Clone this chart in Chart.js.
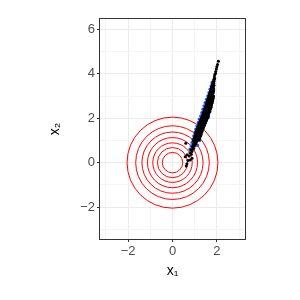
<!DOCTYPE html>
<html>
<head>
<meta charset="utf-8">
<script src="https://cdn.jsdelivr.net/npm/chart.js@4/dist/chart.umd.min.js"></script>
<style>
  html, body { margin: 0; padding: 0; background: #fff; }
  #wrap { width: 300px; height: 300px; }
</style>
</head>
<body>
<div id="wrap"><canvas id="chart" width="300" height="300"></canvas></div>
<script>
// axis limits and ticks
const x_limits = [-3.27, 3.27],
      y_limits = [-3.44, 6.47];
const x_grid = [-3, -2, -1, 0, 1, 2, 3],
      y_grid = [-3, -2, -1, 0, 1, 2, 3, 4, 5, 6];
const tick_labels = [-2, 0, 2, 4, 6];

// radii of the red density contours, centred at (0, 0)
const contour_radii = [2.05, 1.66, 1.38, 1.13, 0.89, 0.68, 0.46];

// blue samples (drawn underneath)
const blue_samples = [
    [0.80,0.60],[0.85,0.75],[0.89,0.90],[0.93,1.05],[0.97,1.20],[1.01,1.35],
    [1.06,1.50],[1.11,1.65],[1.17,1.80],[1.22,1.95],[1.28,2.10],[1.33,2.25],
    [1.38,2.40],[1.43,2.55],[1.48,2.70],[1.54,2.85],[1.60,3.00],[1.65,3.15],
    [1.70,3.30],[1.75,3.45],[1.79,3.60],[1.12,0.78],[1.22,1.00],[1.28,1.25],
    [0.98,0.85],[1.04,1.10],[1.62,2.05],[1.68,2.30]
];

// black samples
const black_samples = [
    [0.62,-0.15],[0.65,-0.05],[0.57,0.27],[0.80,0.12],[0.70,0.10],[0.66,0.35],
    [0.75,0.30],[0.85,0.38],[0.79,0.45],[0.88,0.50],[0.83,0.58],[0.92,0.60],
    [0.95,0.65],[0.90,0.72],[0.98,0.74],[1.02,0.80],[0.94,0.82],[1.05,0.86],
    [0.99,0.90],[1.08,0.93],[0.96,0.95],[0.60,0.87],[0.88,0.20],
    [0.95,1.00],[1.04,1.02],[1.11,0.99],[1.18,1.03],
    [0.97,1.06],[1.06,1.04],[1.13,1.07],[1.20,1.05],
    [0.99,1.11],[1.07,1.09],[1.15,1.12],[1.22,1.10],
    [1.00,1.14],[1.09,1.16],[1.16,1.15],[1.24,1.17],
    [1.01,1.21],[1.10,1.19],[1.18,1.22],[1.26,1.20],
    [1.03,1.24],[1.12,1.26],[1.19,1.25],[1.27,1.27],
    [1.05,1.31],[1.14,1.29],[1.21,1.32],[1.29,1.30],
    [1.06,1.34],[1.15,1.36],[1.23,1.35],[1.31,1.37],
    [1.07,1.41],[1.17,1.39],[1.24,1.42],[1.33,1.40],
    [1.09,1.44],[1.19,1.46],[1.26,1.45],[1.35,1.47],
    [1.11,1.51],[1.21,1.49],[1.28,1.52],[1.37,1.50],
    [1.13,1.54],[1.23,1.56],[1.30,1.55],[1.39,1.57],
    [1.15,1.61],[1.25,1.59],[1.32,1.62],[1.41,1.60],
    [1.17,1.64],[1.27,1.66],[1.34,1.65],[1.43,1.67],
    [1.19,1.71],[1.29,1.69],[1.36,1.72],[1.45,1.70],
    [1.21,1.74],[1.31,1.76],[1.38,1.75],[1.47,1.77],
    [1.23,1.81],[1.33,1.79],[1.40,1.82],[1.49,1.80],
    [1.25,1.84],[1.35,1.86],[1.42,1.85],[1.51,1.87],
    [1.27,1.91],[1.37,1.89],[1.44,1.92],[1.53,1.90],
    [1.29,1.94],[1.39,1.96],[1.46,1.95],[1.55,1.97],
    [1.31,2.01],[1.41,1.99],[1.48,2.02],[1.57,2.00],
    [1.33,2.04],[1.43,2.06],[1.50,2.05],[1.59,2.07],
    [1.35,2.11],[1.45,2.09],[1.52,2.12],[1.61,2.10],
    [1.37,2.14],[1.46,2.16],[1.53,2.15],[1.62,2.17],
    [1.38,2.21],[1.48,2.19],[1.55,2.22],[1.64,2.20],
    [1.40,2.24],[1.50,2.26],[1.57,2.25],[1.65,2.27],
    [1.42,2.31],[1.51,2.29],[1.59,2.32],[1.67,2.30],
    [1.44,2.34],[1.53,2.36],[1.60,2.35],[1.68,2.37],
    [1.45,2.41],[1.55,2.39],[1.62,2.42],[1.70,2.40],
    [1.47,2.44],[1.57,2.46],[1.64,2.45],[1.72,2.47],
    [1.49,2.51],[1.59,2.49],[1.65,2.52],[1.74,2.50],
    [1.51,2.54],[1.60,2.56],[1.66,2.55],[1.75,2.57],
    [1.52,2.61],[1.61,2.59],[1.68,2.62],[1.76,2.60],
    [1.54,2.64],[1.63,2.66],[1.69,2.65],[1.77,2.67],
    [1.55,2.71],[1.64,2.69],[1.71,2.72],[1.79,2.70],
    [1.57,2.74],[1.65,2.76],[1.72,2.75],[1.80,2.77],
    [1.58,2.81],[1.66,2.79],[1.73,2.82],[1.81,2.80],
    [1.60,2.84],[1.68,2.86],[1.74,2.85],[1.82,2.87],
    [1.62,2.91],[1.70,2.89],[1.76,2.92],[1.83,2.90],
    [1.63,2.94],[1.71,2.96],[1.77,2.95],[1.84,2.97],
    [1.65,3.01],[1.72,2.99],[1.78,3.02],[1.85,3.00],
    [1.66,3.04],[1.73,3.06],[1.80,3.05],
    [1.68,3.11],[1.75,3.09],[1.82,3.12],
    [1.69,3.14],[1.76,3.16],[1.83,3.15],
    [1.71,3.21],[1.78,3.19],[1.84,3.22],
    [1.72,3.24],[1.79,3.26],[1.85,3.25],
    [1.74,3.31],[1.80,3.29],[1.86,3.32],
    [1.75,3.34],[1.82,3.36],
    [1.77,3.41],[1.84,3.39],
    [1.78,3.44],[1.85,3.46],
    [1.80,3.51],[1.87,3.49],
    [1.82,3.56],[1.86,3.58],
    [1.84,3.61],
    [1.83,3.66],[1.88,3.68],
    [1.86,3.74],[1.90,3.78],
    [1.89,3.86],
    [1.90,3.96],[1.94,4.02],
    [1.95,4.10],
    [1.98,4.22],
    [2.00,4.32],
    [2.03,4.42],
    [2.07,4.57]
];

const FONT = "'Liberation Sans', Arial, sans-serif";

toPoints = (pairs) => pairs.map(p => ({ x: p[0], y: p[1] }));

isLabelled = (v) => tick_labels.indexOf(v) >= 0;

const panelPlugin = {
    id: 'panel',
    beforeDatasetsDraw(chart) {
        const { ctx, chartArea: a, scales: { x, y } } = chart;
        ctx.save();
        ctx.beginPath();
        ctx.rect(a.left, a.top, a.width, a.height);
        ctx.clip();
        ctx.strokeStyle = '#FF0000';
        ctx.lineWidth = 1;
        const cx = x.getPixelForValue(0), cy = y.getPixelForValue(0);
        contour_radii.forEach(r => {
            ctx.beginPath();
            ctx.ellipse(cx, cy, x.getPixelForValue(r) - cx, cy - y.getPixelForValue(r), 0, 0, Math.PI * 2);
            ctx.stroke();
        });
        ctx.restore();
    },
    afterDraw(chart) {
        const { ctx, chartArea: a } = chart;
        ctx.save();
        ctx.strokeStyle = '#333333';
        ctx.lineWidth = 1;
        ctx.strokeRect(a.left - 0.5, a.top - 0.5, a.width + 1, a.height + 1);
        ctx.restore();
    }
};

axisOptions = (limits, grid, title, isX) => ({
    type: 'linear',
    min: limits[0],
    max: limits[1],
    afterBuildTicks: (scale) => { scale.ticks = grid.map(v => ({ value: v })); },
    afterFit: (scale) => {
        if (isX) scale.height = 61;
        else scale.width = 100;
    },
    border: { display: false },
    grid: {
        color: (c) => isLabelled(c.tick.value) ? '#EBEBEB' : '#F4F4F4',
        lineWidth: 1,
        tickColor: (c) => isLabelled(c.tick.value) ? '#333333' : 'rgba(0,0,0,0)',
        tickLength: 3,
        drawTicks: true
    },
    ticks: {
        autoSkip: false,
        maxRotation: 0,
        padding: 2,
        color: '#4D4D4D',
        font: { family: FONT, size: 13 },
        callback: (v) => isLabelled(v) ? (v < 0 ? '\u2212' + Math.abs(v) : String(v)) : ''
    },
    title: {
        display: true,
        text: title,
        color: '#000000',
        font: { family: FONT, size: 14 },
        padding: isX ? { top: 0, bottom: 20 } : { top: 47, bottom: 0 }
    }
});

new Chart(document.getElementById('chart'), {
    type: 'scatter',
    data: {
        datasets: [{
            data: toPoints(black_samples),
            backgroundColor: '#000000',
            pointRadius: 1.5,
            pointBorderWidth: 0
        }, {
            data: toPoints(blue_samples),
            backgroundColor: '#2255FF',
            pointRadius: 1.8,
            pointBorderWidth: 0
        }]
    },
    options: {
        responsive: false,
        animation: false,
        layout: { padding: { left: 0, right: 55, top: 19, bottom: 0 } },
        plugins: { legend: { display: false }, tooltip: { enabled: false } },
        scales: {
            x: axisOptions(x_limits, x_grid, 'x\u2081', true),
            y: axisOptions(y_limits, y_grid, 'x\u2082', false)
        }
    },
    plugins: [panelPlugin]
});
</script>
</body>
</html>
